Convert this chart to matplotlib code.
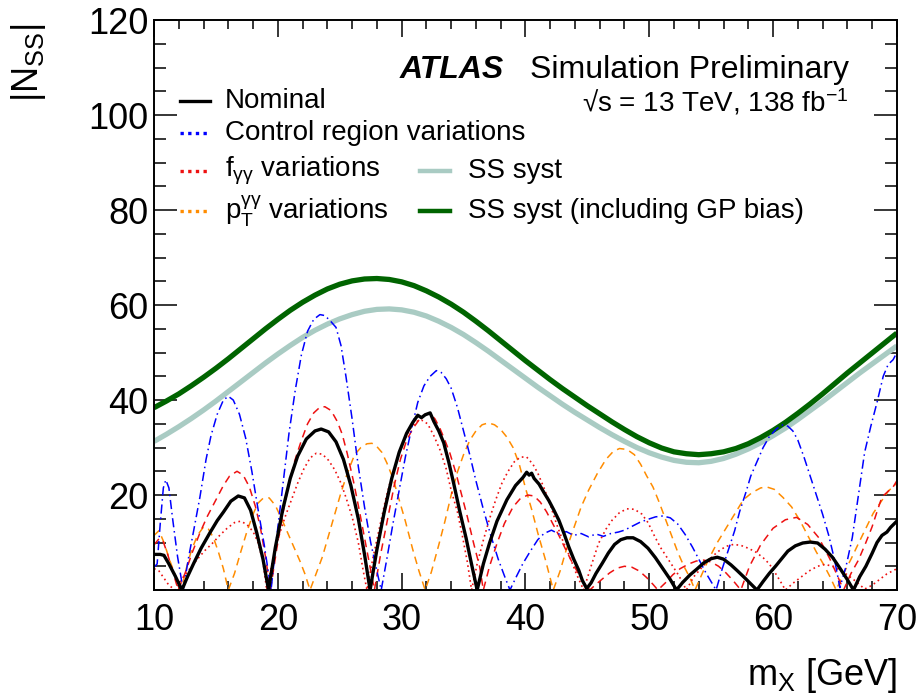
import numpy as np
import matplotlib
matplotlib.use('Agg')
from matplotlib import pyplot as plt

plt.rcParams['font.family'] = ['Liberation Sans', 'DejaVu Sans']
plt.rcParams['mathtext.fontset'] = 'custom'
plt.rcParams['mathtext.rm'] = 'Liberation Sans'
plt.rcParams['mathtext.it'] = 'Liberation Sans:italic'
plt.rcParams['mathtext.bf'] = 'Liberation Sans:bold'

# (m_X [GeV], |N_SS|)
nominal = [(10, 7.5), (10.5, 7.5), (10.8, 7.3), (11.2, 5.5), (11.7, 3), (12.25, 0),
           (12.7, 2.8), (13.2, 5.6), (13.8, 8.8), (14.5, 12), (15.1, 14.6), (15.6, 16.4),
           (16.2, 18.7), (16.8, 19.8), (17.3, 19.4), (17.8, 16.8), (18.3, 12), (18.8, 6.5),
           (19.25, 0), (19.8, 9), (20.4, 17), (21.0, 23.5), (21.6, 28.2), (22.3, 31.8),
           (23.0, 33.5), (23.5, 33.9), (24.1, 33.3), (24.7, 31.2), (25.3, 27.5), (25.9, 22),
           (26.5, 15), (27.0, 7.5), (27.45, 0), (28.0, 8.5), (28.6, 16.5), (29.2, 23.5),
           (29.8, 29), (30.4, 33), (30.9, 35.3), (31.3, 36.8), (31.6, 36.3), (31.9, 36.9),
           (32.3, 37.3), (32.6, 35.5), (33.0, 33.5), (33.4, 31), (33.8, 27), (34.2, 22.5),
           (34.7, 16.5), (35.2, 11), (35.6, 6), (36.1, 0), (36.6, 5.5), (37.1, 9.9),
           (37.7, 14.5), (38.5, 19), (39.2, 22), (39.8, 23.7), (40.1, 24.8), (40.3, 24.2),
           (40.5, 24.6), (40.7, 23.5), (41.1, 22.3), (41.5, 20.5), (41.9, 18.8), (42.3, 16.8),
           (42.7, 14.7), (43.1, 12), (43.5, 9.1), (43.9, 6.5), (44.3, 4.2), (44.6, 2),
           (44.95, 0.3), (45.3, 1.5), (45.7, 3.5), (46.2, 5.6), (46.7, 7.8), (47.2, 9.6),
           (47.7, 10.6), (48.2, 11), (48.7, 11), (49.3, 10.2), (49.9, 8.8), (50.5, 6.8),
           (51.1, 4.5), (51.7, 2.2), (52.2, 0), (52.7, 1.6), (53.3, 3.2), (53.8, 4.3),
           (54.4, 5.7), (55.0, 6.6), (55.5, 6.9), (56.0, 6.5), (56.6, 5.3), (57.1, 4.1),
           (57.7, 2.6), (58.2, 1.3), (58.7, 0), (59.2, 1.8), (59.7, 3.5), (60.2, 5),
           (60.7, 6.6), (61.2, 8.2), (61.8, 9.3), (62.4, 9.9), (63.0, 10.1), (63.6, 9.9),
           (64.2, 8.6), (64.8, 6.9), (65.4, 4.6), (66.0, 2.2), (66.5, 0), (67.0, 2.8),
           (67.5, 5), (68.0, 7.7), (68.4, 10), (68.8, 11.5), (69.2, 12.2), (69.5, 13.2),
           (70.0, 14.5)]

control_region = [(10, 4.8), (10.25, 5.5), (10.5, 14), (10.75, 21.5), (10.95, 23.2), (11.2, 21.5),
                  (11.5, 15), (11.9, 7), (12.35, 0), (12.8, 7), (13.2, 12.5), (13.7, 19.5),
                  (14.2, 27.5), (14.6, 32.5), (15.1, 37), (15.6, 40), (16.0, 40.8), (16.4, 40),
                  (16.9, 37), (17.4, 32), (17.9, 25), (18.4, 17), (18.9, 9.5), (19.45, 0),
                  (19.9, 11), (20.4, 22), (20.9, 33), (21.4, 42), (21.9, 49.5), (22.4, 54.5),
                  (22.9, 57), (23.4, 58), (23.8, 57.8), (24.3, 56.5), (24.7, 55.3), (25.1, 51.5),
                  (25.5, 45), (26.0, 36), (26.5, 26), (27.0, 17.5), (27.5, 10), (28.0, 4),
                  (28.35, 0), (28.8, 6.5), (29.3, 14), (29.8, 21), (30.3, 28), (30.8, 34),
                  (31.3, 39.5), (31.8, 43), (32.3, 45), (32.8, 46.2), (33.2, 45.8), (33.6, 44.5),
                  (34.0, 42.5), (34.5, 38.5), (35.0, 33.5), (35.5, 28.5), (36.0, 23), (36.6, 17),
                  (37.2, 11.5), (37.8, 6.5), (38.3, 3), (38.75, 0), (39.3, 3), (39.8, 5.6),
                  (40.4, 8.2), (41.0, 10.6), (41.5, 11.9), (42.1, 12.6), (42.7, 11.8), (43.3, 12.3),
                  (43.9, 11.5), (44.5, 11.9), (45.1, 11.2), (45.7, 11.8), (46.3, 11.3), (46.9, 11.9),
                  (47.5, 12.2), (48.0, 12.6), (48.6, 13.4), (49.2, 14.2), (49.8, 14.8), (50.5, 15.4),
                  (51.1, 15.6), (51.7, 15.2), (52.3, 13.9), (52.9, 11.7), (53.5, 9), (54.1, 6),
                  (54.6, 3.5), (55.4, 0), (55.9, 4.5), (56.4, 8.5), (56.9, 12.5), (57.3, 16.5),
                  (57.8, 20.5), (58.2, 24), (58.7, 27), (59.2, 30), (59.7, 32.3), (60.3, 34),
                  (60.8, 34.8), (61.2, 34.5), (61.6, 33.5), (62.0, 31.6), (62.5, 28), (63.0, 24),
                  (63.5, 20), (64.0, 16), (64.5, 11.5), (65.0, 6), (65.4, 0.5), (65.9, 5),
                  (66.4, 11), (66.9, 20), (67.4, 29), (67.9, 34.5), (68.4, 39.5), (68.9, 45),
                  (69.3, 47.5), (69.7, 48.5), (70.0, 50)]

fgg_dashed = [(10, 9.5), (10.4, 10.8), (10.7, 10.5), (11.1, 7.5), (11.5, 4), (11.95, 0),
              (12.5, 3.5), (13.1, 8), (13.7, 12), (14.3, 15.5), (15.0, 19), (15.6, 22),
              (16.1, 24), (16.7, 25), (17.2, 24.2), (17.7, 21.7), (18.2, 17.5), (18.6, 13),
              (19.0, 7), (19.4, 0), (19.9, 8.5), (20.4, 16), (20.9, 22.5), (21.4, 27.5),
              (21.9, 31.5), (22.4, 35), (22.9, 37.3), (23.4, 38.5), (23.8, 38.6), (24.3, 37.8),
              (24.8, 35.5), (25.2, 32.8), (25.6, 28.8), (26.1, 23), (26.6, 16.5), (27.0, 11),
              (27.4, 5.5), (27.8, 0), (28.3, 7.5), (28.9, 15.4), (29.4, 22), (29.9, 27.5),
              (30.4, 31.5), (30.9, 34), (31.4, 35.8), (31.9, 37), (32.3, 37.2), (32.7, 36),
              (33.1, 34), (33.5, 31.5), (33.9, 28.8), (34.4, 24.5), (34.9, 19.5), (35.3, 15.5),
              (35.8, 10), (36.3, 4.9), (36.6, 0), (37.1, 5), (37.7, 9.8), (38.3, 14),
              (39.0, 17.5), (39.6, 19.3), (40.2, 20), (40.7, 19.8), (41.2, 18.5), (41.7, 16.5),
              (42.2, 14), (42.7, 11.5), (43.2, 8.8), (43.7, 6.2), (44.2, 3.8), (44.7, 1.6),
              (45.2, 0), (45.7, 1.2), (46.2, 2.3), (46.8, 3.6), (47.4, 4.6), (48.0, 5),
              (48.6, 4.8), (49.2, 4), (49.8, 2.6), (50.3, 1.2), (50.7, 0), (51.3, 1.5),
              (51.9, 3.2), (52.5, 4.5), (53.2, 5.5), (53.8, 6.1), (54.4, 6.3), (55.0, 5.9),
              (55.6, 5), (56.2, 3.6), (56.8, 1.9), (57.4, 0), (58.1, 5), (59.0, 9.5),
              (60.0, 13), (61.0, 14.8), (61.9, 15.3), (62.8, 13.8), (63.7, 11), (64.2, 8.5),
              (64.6, 6.5), (65.2, 3), (65.7, 0), (66.3, 3.5), (66.9, 6.3), (67.5, 10),
              (68.0, 13.3), (68.4, 16.5), (68.8, 19.6), (69.3, 20.8), (69.7, 21.7), (70.0, 23)]

fgg_dotted = [(10, 4.5), (10.4, 4), (10.8, 2.5), (11.2, 1), (11.7, 0), (12.3, 2.5),
              (12.9, 4.5), (13.5, 6.5), (14.1, 8.3), (14.7, 9.8), (15.3, 11.5), (15.9, 13),
              (16.5, 14.2), (17.0, 14.5), (17.5, 13.8), (18.0, 12.3), (18.4, 10), (18.8, 6),
              (19.1, 0), (19.6, 6.5), (20.1, 11.5), (20.6, 15.5), (21.1, 19), (21.6, 22.5),
              (22.1, 25.5), (22.6, 27.8), (23.1, 28.8), (23.6, 28.6), (24.1, 27.3), (24.6, 25.3),
              (25.1, 22.5), (25.5, 19.5), (26.0, 15.4), (26.5, 10), (26.9, 4), (27.2, 0),
              (27.7, 7), (28.2, 13), (28.7, 19), (29.2, 24), (29.7, 28), (30.2, 31.5),
              (30.7, 34), (31.2, 35.5), (31.6, 35.8), (32.1, 35), (32.6, 32.5), (33.1, 29.5),
              (33.6, 25.5), (34.0, 21), (34.5, 16.5), (34.9, 11.5), (35.3, 6), (35.65, 0),
              (36.1, 5.5), (36.6, 10.5), (37.1, 15), (37.6, 19), (38.1, 22.5), (38.6, 25),
              (39.1, 27), (39.6, 28), (40.1, 28), (40.6, 26.5), (41.0, 24.6), (41.5, 21.5),
              (42.0, 18), (42.5, 14), (43.0, 10.5), (43.5, 7.5), (44.1, 3.5), (44.7, 0),
              (45.3, 5), (45.9, 9.8), (46.5, 12.8), (47.0, 14.7), (47.6, 16.3), (48.2, 17.1),
              (48.8, 17), (49.4, 16), (49.9, 14.2), (50.4, 11.5), (50.9, 9), (51.4, 7),
              (51.9, 5), (52.4, 3), (53.0, 0), (53.6, 2.8), (54.2, 4.6), (54.8, 6.3),
              (55.5, 8), (56.2, 9.2), (56.8, 9.6), (57.4, 9.4), (58.0, 8.8), (58.6, 8),
              (59.2, 6.8), (59.7, 5.5), (60.2, 3.5), (60.6, 1.8), (61.0, 0), (61.6, 1.4),
              (62.2, 2.6), (62.9, 4), (63.6, 5), (64.2, 5.4), (64.8, 5), (65.4, 4.2),
              (66.0, 3.2), (66.7, 1.8), (67.4, 0.2), (68.0, 1), (68.6, 2.2), (69.2, 3.4),
              (69.8, 4.2), (70.0, 4.5)]

ptgg = [(10, 11.5), (10.4, 12.5), (10.8, 10), (11.3, 6), (11.8, 2.5), (12.2, 0),
        (12.6, 4.5), (13.0, 8.2), (13.5, 11.5), (14.0, 13.3), (14.4, 12.8), (14.8, 11),
        (15.2, 8), (15.6, 4.5), (16.0, 0), (16.5, 3.5), (17.0, 8), (17.5, 12.3),
        (18.0, 16), (18.4, 18.3), (18.8, 19.3), (19.3, 19.4), (19.8, 17.8), (20.3, 15),
        (20.8, 12), (21.3, 9), (21.8, 6), (22.2, 3.3), (22.6, 0), (23.1, 3.5),
        (23.6, 7), (24.1, 11.5), (24.6, 16), (25.1, 20.5), (25.6, 24.5), (26.2, 28.5),
        (26.7, 30), (27.2, 30.8), (27.6, 30.9), (28.0, 30.2), (28.4, 29), (28.8, 26.8),
        (29.3, 23.5), (29.8, 19), (30.3, 14.5), (30.9, 8.5), (31.4, 4), (31.9, 0),
        (32.4, 3.8), (33.0, 9.5), (33.5, 14.5), (34.0, 20), (34.5, 24.8), (35.0, 28.5),
        (35.5, 31.5), (36.0, 33.5), (36.5, 34.8), (37.0, 35.2), (37.5, 34.8), (38.0, 33.8),
        (38.5, 32.2), (39.0, 30), (39.5, 26.5), (40.0, 21.5), (40.5, 17), (41.0, 12),
        (41.6, 6.5), (42.25, 0), (42.8, 4), (43.3, 8.5), (43.9, 13), (44.5, 17.5),
        (45.1, 21), (45.8, 24.5), (46.5, 27.5), (47.1, 29.2), (47.6, 29.8), (48.2, 29.6),
        (48.8, 28.5), (49.3, 26.5), (49.8, 24), (50.3, 21.7), (50.8, 18.5), (51.3, 15),
        (51.8, 11.5), (52.3, 8), (52.8, 5), (53.3, 2.5), (53.7, 0), (54.2, 3),
        (54.8, 6.5), (55.5, 10), (56.2, 13), (56.9, 16), (57.6, 19), (58.3, 20.5),
        (59.0, 21.5), (59.5, 21.7), (60.1, 21.2), (60.8, 19.5), (61.5, 17.5), (62.2, 14.5),
        (62.9, 11), (63.5, 8), (64.1, 5.3), (64.6, 2.8), (65.1, 0), (65.7, 3.5),
        (66.3, 6.5), (66.9, 9.8), (67.5, 13), (68.1, 16.2), (68.7, 18.5), (69.3, 20.8),
        (70.0, 22.5)]

ss_syst = [(10, 31.3), (11, 32.8), (12, 34.4), (13, 36.1), (14, 37.9), (15, 39.8),
           (16, 41.8), (17, 43.8), (18, 45.8), (19, 47.8), (20, 49.7), (21, 51.5),
           (22, 53.2), (23, 54.7), (24, 56.0), (25, 57.1), (26, 58.0), (27, 58.7),
           (28, 59.1), (29, 59.2), (30, 59.0), (31, 58.5), (32, 57.7), (33, 56.6),
           (34, 55.3), (35, 53.8), (36, 52.1), (37, 50.3), (38, 48.4), (39, 46.5),
           (40, 44.6), (41, 42.7), (42, 40.9), (43, 39.1), (44, 37.4), (45, 35.8),
           (46, 34.2), (47, 32.7), (48, 31.3), (49, 30.0), (50, 28.9), (51, 28.0),
           (52, 27.3), (53, 26.9), (54, 26.8), (55, 27.1), (56, 27.7), (57, 28.6),
           (58, 29.7), (59, 31.0), (60, 32.5), (61, 34.1), (62, 35.9), (63, 37.8),
           (64, 39.7), (65, 41.7), (66, 43.7), (67, 45.7), (68, 47.6), (69, 49.5), (70, 51.4)]

ss_syst_gp = [(10, 38.4), (11, 39.8), (12, 41.3), (13, 43.0), (14, 44.8), (15, 46.7),
              (16, 48.7), (17, 50.8), (18, 52.9), (19, 55.0), (20, 57.0), (21, 58.9),
              (22, 60.6), (23, 62.1), (24, 63.4), (25, 64.4), (26, 65.1), (27, 65.5),
              (28, 65.6), (29, 65.4), (30, 64.9), (31, 64.1), (32, 63.0), (33, 61.7),
              (34, 60.2), (35, 58.5), (36, 56.6), (37, 54.6), (38, 52.5), (39, 50.4),
              (40, 48.3), (41, 46.3), (42, 44.3), (43, 42.4), (44, 40.6), (45, 38.8),
              (46, 37.1), (47, 35.4), (48, 33.8), (49, 32.3), (50, 31.0), (51, 29.9),
              (52, 29.1), (53, 28.7), (54, 28.5), (55, 28.7), (56, 29.1), (57, 29.8),
              (58, 30.8), (59, 32.1), (60, 33.6), (61, 35.3), (62, 37.2), (63, 39.2),
              (64, 41.3), (65, 43.5), (66, 45.7), (67, 47.8), (68, 49.9), (69, 52.0), (70, 54.1)]

light_col = '#a9cbc3'
dark_col = '#006400'
blue_col = '#0000ff'
red_col = '#ee1111'
orange_col = '#ff8c00'

fig = plt.figure(figsize=(9.17, 6.97), dpi=100)
ax = fig.add_axes([0.168, 0.1535, 0.81, 0.8175])


def draw(data, **kw):
    arr = np.array(data)
    ax.plot(arr[:, 0], arr[:, 1], **kw)


draw(ss_syst, color=light_col, lw=3.8, solid_capstyle='butt')
draw(ss_syst_gp, color=dark_col, lw=3.8, solid_capstyle='butt')
draw(ptgg, color=orange_col, lw=1.1, ls=(0, (5, 3.5)))
draw(fgg_dotted, color=red_col, lw=1.2, ls=(0, (1, 2)))
draw(fgg_dashed, color=red_col, lw=1.1, ls=(0, (5, 3.5)))
draw(control_region, color=blue_col, lw=1.1, ls=(0, (6, 2.5, 1, 2.5)))
draw(nominal, color='black', lw=2.4)

ax.set_xlim(10, 70)
ax.set_ylim(0, 120)
ax.set_xticks(np.arange(10, 71, 10))
ax.set_xticks(np.arange(10, 71, 2), minor=True)
ax.set_yticks(np.arange(20, 121, 20))
ax.set_yticks(np.arange(0, 121, 5), minor=True)
for s in ax.spines.values():
    s.set_linewidth(1.4)
ax.tick_params(which='both', direction='in', top=True, right=True, width=1.1, labelsize=26)
ax.tick_params(axis='x', which='major', length=12, pad=9)
ax.tick_params(axis='x', which='minor', length=6.5)
ax.tick_params(axis='y', which='major', length=16.5, pad=4)
ax.tick_params(axis='y', which='minor', length=8.5)

ax.set_xlabel(r'm$_{\mathrm{X}}$ [GeV]', fontsize=26, ha='right')
ax.xaxis.set_label_coords(1.0, -0.115)
ax.set_ylabel(r'|N$_{\mathrm{SS}}$|', fontsize=26, ha='right')
ax.yaxis.set_label_coords(-0.143, 0.995)

# ATLAS label
ax.text(0.331, 0.898, 'ATLAS', transform=ax.transAxes, fontsize=23,
        fontweight='bold', fontstyle='italic')
ax.text(0.506, 0.898, 'Simulation Preliminary', transform=ax.transAxes, fontsize=23)
ax.text(0.934, 0.84, '\u221as = 13 TeV, 138 fb$^{-1}$', transform=ax.transAxes,
        fontsize=20, ha='right')

# legend
entries1 = [('Nominal', dict(color='black', lw=2.4, ls='-'), 0.858),
            ('Control region variations', dict(color=blue_col, lw=2.4, ls=(0, (1, 1.3))), 0.802),
            (r'f$_{\mathrm{\gamma\gamma}}$ variations', dict(color=red_col, lw=2.4, ls=(0, (1, 1.3))), 0.735),
            (r'p$_{\mathrm{T}}^{\mathrm{\gamma\gamma}}$ variations', dict(color=orange_col, lw=2.4, ls=(0, (1, 1.3))), 0.665)]
for label, style, yy in entries1:
    ax.plot([0.035, 0.075], [yy, yy], transform=ax.transAxes, **style)
    ax.text(0.0956, yy, label, transform=ax.transAxes, fontsize=20, va='center')

entries2 = [('SS syst', light_col, 0.735),
            ('SS syst (including GP bias)', dark_col, 0.665)]
for label, col, yy in entries2:
    ax.plot([0.358, 0.398], [yy, yy], transform=ax.transAxes, color=col, lw=3.2)
    ax.text(0.4226, yy, label, transform=ax.transAxes, fontsize=20, va='center')

plt.savefig('out.png', dpi=100)
